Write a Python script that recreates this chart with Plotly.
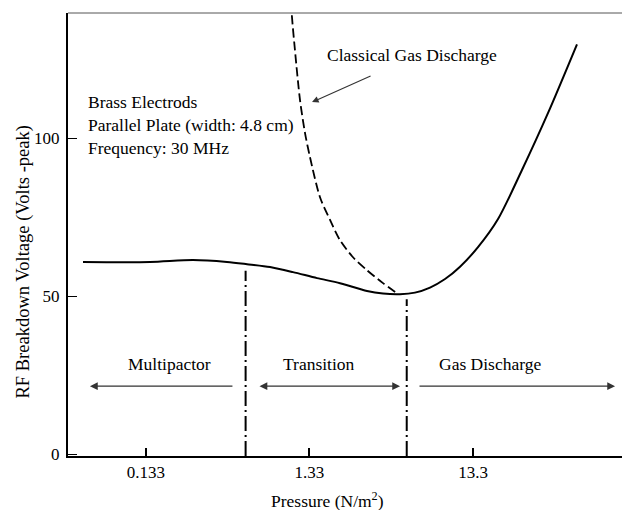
import numpy as np
import plotly.graph_objects as go

# ---- data ----
solid_p = [0.0548, 0.1407, 0.258, 0.416, 0.552, 0.763, 1.054, 1.478, 2.044, 2.989, 3.745,
           4.76, 5.87, 7.26, 8.97, 11.08, 14.27, 18.92, 26.5, 38.2, 57.5]
solid_v = [60.8, 60.8, 61.4, 60.8, 60.1, 59.2, 57.6, 55.7, 54.1, 51.6, 50.8,
           50.6, 51.1, 52.7, 55.4, 59.3, 65.5, 74.4, 89.9, 107.9, 129.7]

classic_p = [1.02, 1.035, 1.084, 1.164, 1.249, 1.339, 1.542, 1.776, 2.044, 2.455, 2.989, 3.745, 4.56]
classic_v = [147.0, 139.6, 127.8, 112.0, 101.6, 94.0, 81.3, 74.1, 67.7, 62.3, 58.2, 54.1, 50.9]

boundary_p = [0.541, 5.23]
boundary_top = [58.0, 49.0]

x_ticks = [0.133, 1.33, 13.3]
x_ticklabels = ["0.133", "1.33", "13.3"]
y_ticks = [0, 50, 100]

regions = ["Multipactor", "Transition", "Gas Discharge"]
region_arrow_from = [0.459, 0.644, 6.13]
region_arrow_to = [0.0604, 4.76, 98.3]
region_arrow_v = 21.5

classic_arrow_tail = (3.21, 119.9)
classic_arrow_head = (1.378, 111.4)

y_range = [-0.6, 139.6]
x_range_log = [-1.353, 2.035]

FONT = "Liberation Serif"
TS = 17.5

fig = go.Figure()

fig.add_trace(go.Scatter(x=solid_p, y=solid_v, mode="lines",
                         line=dict(color="black", width=2, shape="spline", smoothing=0.8),
                         showlegend=False, hoverinfo="skip"))
fig.add_trace(go.Scatter(x=classic_p, y=classic_v, mode="lines",
                         line=dict(color="black", width=1.8, dash="9px,4px", shape="spline", smoothing=0.8),
                         showlegend=False, hoverinfo="skip"))
for bp, bt in zip(boundary_p, boundary_top):
    fig.add_trace(go.Scatter(x=[bp, bp], y=[y_range[0], bt], mode="lines",
                             line=dict(color="black", width=2, dash="15px,4px,2px,4px"),
                             showlegend=False, hoverinfo="skip"))

ann = []
sides = ["end", "end+start", "end"]
for a, b, s in zip(region_arrow_from, region_arrow_to, sides):
    ann.append(dict(x=np.log10(b), y=region_arrow_v, ax=np.log10(a), ay=region_arrow_v,
                    xref="x", yref="y", axref="x", ayref="y", text="",
                    showarrow=True, arrowhead=2, arrowsize=1.2, arrowwidth=1.3,
                    arrowcolor="#333333", arrowside=s, standoff=0, startstandoff=0))
ann.append(dict(x=np.log10(classic_arrow_head[0]), y=classic_arrow_head[1],
                ax=np.log10(classic_arrow_tail[0]), ay=classic_arrow_tail[1],
                xref="x", yref="y", axref="x", ayref="y", text="",
                showarrow=True, arrowhead=2, arrowsize=1.2, arrowwidth=1.1,
                arrowcolor="#333333", standoff=0))

region_x = [0.1841, 0.4531, 0.7617]
for t, xp in zip(regions, region_x):
    ann.append(dict(x=xp, y=0.2077, xref="paper", yref="paper", text=t, showarrow=False,
                    xanchor="center", yanchor="middle", font=dict(family=FONT, size=TS, color="black")))

ann.append(dict(x=0.4639, y=0.905, xref="paper", yref="paper", text="Classical Gas Discharge",
                showarrow=False, xanchor="left", yanchor="middle",
                font=dict(family=FONT, size=TS, color="black")))
ann.append(dict(x=0.0325, y=0.747, xref="paper", yref="paper",
                text="Brass Electrods<br>Parallel Plate (width: 4.8 cm)<br>Frequency: 30 MHz",
                showarrow=False, xanchor="left", yanchor="middle", align="left",
                font=dict(family=FONT, size=TS, color="black")))
ann.append(dict(x=0.4693, y=-0.099, xref="paper", yref="paper", text="Pressure (N/m<sup>2</sup>)",
                showarrow=False, xanchor="center", yanchor="middle",
                font=dict(family=FONT, size=TS, color="black")))
ann.append(dict(x=-0.0795, y=0.439, xref="paper", yref="paper",
                text="RF Breakdown Voltage (Volts -peak)", textangle=-90,
                showarrow=False, xanchor="center", yanchor="middle",
                font=dict(family=FONT, size=18.5, color="black")))

fig.update_layout(
    width=622, height=510,
    margin=dict(l=68, r=0, t=13, b=54),
    paper_bgcolor="white", plot_bgcolor="white",
    font=dict(family=FONT, size=17, color="black"),
    annotations=ann,
    shapes=[dict(type="line", xref="paper", yref="paper", x0=0, x1=1, y0=1, y1=1,
                 line=dict(color="#555555", width=1))],
    xaxis=dict(type="log", range=x_range_log, tickvals=x_ticks, ticktext=x_ticklabels,
               ticks="inside", ticklen=8, tickwidth=1.5, tickcolor="black",
               showline=True, linecolor="black", linewidth=2, showgrid=False, zeroline=False,
               tickfont=dict(family=FONT, size=17, color="black")),
    yaxis=dict(range=y_range, tickvals=y_ticks, ticks="inside", ticklen=9, tickwidth=1.2,
               tickcolor="black", showline=True, linecolor="black", linewidth=2,
               showgrid=False, zeroline=False, ticklabelstandoff=3,
               tickfont=dict(family=FONT, size=17, color="black")),
)

fig.write_html("out.html")
